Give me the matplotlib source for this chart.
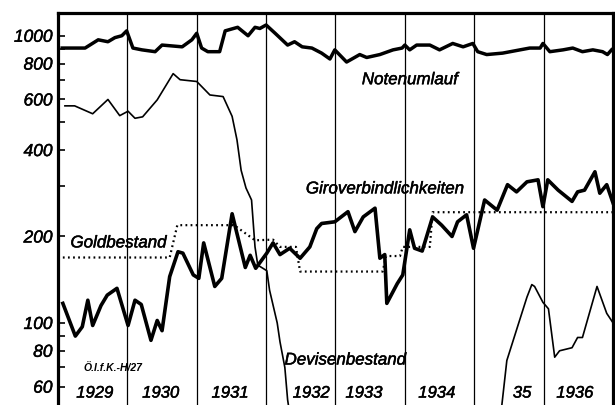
import matplotlib
matplotlib.use('Agg')
import matplotlib.pyplot as plt
import matplotlib.patheffects as pe
import numpy as np
from matplotlib.ticker import FixedLocator, NullFormatter

# dates in decimal years, values in Mill. S (log scale)
noten_t = [1929.06, 1929.39, 1929.58, 1929.72, 1929.82, 1929.92, 1929.99, 1930.08, 1930.21, 1930.40,
           1930.50, 1930.79, 1930.93, 1931.00, 1931.07, 1931.16, 1931.33, 1931.41, 1931.59, 1931.74,
           1931.84, 1931.91, 1932.00, 1932.13, 1932.31, 1932.41, 1932.52, 1932.66, 1932.80, 1932.92,
           1932.99, 1933.16, 1933.35, 1933.45, 1933.64, 1933.83, 1933.96, 1934.00, 1934.07, 1934.17,
           1934.36, 1934.50, 1934.69, 1934.84, 1934.98, 1935.05, 1935.18, 1935.41, 1935.66, 1935.80,
           1935.95, 1935.99, 1936.09, 1936.28, 1936.42, 1936.56, 1936.71, 1936.85, 1936.92, 1936.98]
noten_v = [906, 906, 968, 953, 985, 1000, 1040, 906, 893, 880,
           928, 915, 968, 1020, 906, 880, 880, 1040, 1070, 1000,
           1070, 1060, 1090, 1020, 928, 953, 915, 906, 870, 830,
           893, 810, 860, 840, 860, 893, 906, 928, 893, 928,
           928, 893, 940, 915, 940, 880, 860, 870, 893, 906,
           906, 940, 880, 893, 906, 880, 893, 880, 860, 893]

devisen_t = [1929.10, 1929.24, 1929.50, 1929.72, 1929.89, 1930.01, 1930.11, 1930.22, 1930.43, 1930.66,
             1930.76, 1931.00, 1931.19, 1931.38, 1931.51, 1931.58, 1931.64, 1931.71, 1931.79, 1931.84,
             1931.88, 1932.01, 1932.05, 1932.16, 1932.20, 1932.27, 1932.31, 1932.36,
             1934.00,
             1935.37, 1935.47, 1935.63, 1935.76, 1935.83, 1935.87, 1935.99, 1936.07, 1936.16, 1936.23,
             1936.41, 1936.49, 1936.56, 1936.77, 1936.91, 1936.99]
devisen_v = [570, 570, 535, 600, 527, 546, 516, 522, 598, 738,
             703, 693, 622, 614, 524, 434, 340, 295, 268, 184,
             159, 152, 130, 100, 86, 70, 54, 45,
             np.nan,
             45, 74, 98, 123, 136, 134, 118, 112, 76, 80,
             82, 89, 89, 134, 108, 101]

giro_t = [1929.07, 1929.25, 1929.35, 1929.43, 1929.50, 1929.62, 1929.71, 1929.85, 1930.01, 1930.11,
          1930.20, 1930.34, 1930.43, 1930.50, 1930.61, 1930.73, 1930.80, 1930.95, 1931.03, 1931.10,
          1931.26, 1931.36, 1931.51, 1931.70, 1931.77, 1931.85, 1932.01, 1932.10, 1932.20, 1932.34,
          1932.49, 1932.63, 1932.73, 1932.80, 1932.99, 1933.18, 1933.28, 1933.40, 1933.57, 1933.64,
          1933.71, 1933.74, 1933.89, 1933.97, 1934.07, 1934.14, 1934.25, 1934.40, 1934.53, 1934.68,
          1934.76, 1934.89, 1934.99, 1935.15, 1935.33, 1935.48, 1935.61, 1935.76, 1935.92, 1935.99,
          1936.06, 1936.21, 1936.41, 1936.49, 1936.59, 1936.74, 1936.81, 1936.91, 1937.00]
giro_v = [117, 90, 97, 120, 98, 115, 125, 132, 98, 120,
          116, 87, 102, 94, 145, 177, 175, 147, 143, 190,
          134, 143, 240, 156, 172, 155, 175, 190, 173, 182,
          168, 184, 213, 222, 225, 244, 208, 234, 251, 168,
          173, 117, 137, 147, 211, 182, 178, 234, 219, 200,
          225, 238, 182, 268, 247, 303, 286, 310, 315, 254,
          315, 290, 265, 286, 290, 336, 283, 303, 262]

gold_t = [1929.07, 1930.61, 1930.72, 1931.54, 1931.84, 1932.10, 1932.20, 1932.43, 1932.49,
          1933.68, 1933.73, 1933.93, 1933.97, 1934.36, 1934.40, 1937.00]
gold_v = [169, 169, 219, 219, 194, 195, 184, 184, 151,
          151, 171, 171, 184, 184, 243, 243]

year_labels = ['1929', '1930', '1931', '1932', '1933', '1934', '35', '1936']
year_label_x = [1929.53, 1930.48, 1931.48, 1932.65, 1933.41, 1934.46, 1935.69, 1936.45]
year_lines = [1930, 1931, 1932, 1933, 1934, 1935, 1936]

fnt = 'Liberation Sans'
heavy = [pe.withStroke(linewidth=0.35, foreground='black')]

fig = plt.figure(figsize=(6.15, 4.05), dpi=100)
ax = fig.add_axes([0.0943, -0.0109, 0.9024, 0.9788])
ax.set_yscale('log')
ax.set_xlim(1929, 1937)
ax.set_ylim(50, 1200)

for yl in year_lines:
    ax.axvline(yl, color='black', lw=0.9, zorder=1)

ax.plot(noten_t, noten_v, color='black', lw=2.5, solid_joinstyle='round', zorder=3)
ax.plot(giro_t, giro_v, color='black', lw=2.6, solid_joinstyle='round', zorder=3)
ax.plot(devisen_t, devisen_v, color='black', lw=1.2, zorder=3)
ax.plot(gold_t, gold_v, color='black', lw=1.6, linestyle=(0, (0.8, 1.5)), zorder=2)

ax.yaxis.set_major_locator(FixedLocator([60, 80, 100, 200, 400, 600, 800, 1000]))
ax.yaxis.set_minor_locator(FixedLocator([70, 90, 300, 500, 700, 900]))
ax.yaxis.set_minor_formatter(NullFormatter())
ax.set_yticklabels(['60', '80', '100', '200', '400', '600', '800', '1000'],
                   fontstyle='italic', family=fnt, fontsize=12.5)
for t in ax.get_yticklabels():
    t.set_path_effects(heavy)
ax.tick_params(axis='y', which='both', direction='in', length=5, width=1.2, pad=4)
ax.tick_params(axis='x', bottom=False, labelbottom=False)

for s in ['left', 'top', 'right']:
    ax.spines[s].set_linewidth(2.3)
ax.spines['bottom'].set_visible(False)

lab = dict(fontstyle='italic', family=fnt, fontsize=12.2, ha='center', va='center',
           path_effects=heavy)
ax.text(1934.07, 703, 'Notenumlauf', **lab)
ax.text(1933.71, 293, 'Giroverbindlichkeiten', **lab)
ax.text(1929.87, 190, 'Goldbestand', **lab)
ax.text(1933.14, 74.3, 'Devisenbestand', **lab)
ax.text(1929.79, 69.7, 'Ö.I.f.K.-H/27', fontstyle='italic', family=fnt, fontsize=7.5,
        fontweight='bold', ha='center', va='center')

for lbl, x in zip(year_labels, year_label_x):
    ax.text(x, 57, lbl, fontstyle='italic', family=fnt, fontsize=12, ha='center', va='center',
            path_effects=heavy)

fig.savefig('out.png', dpi=100)
